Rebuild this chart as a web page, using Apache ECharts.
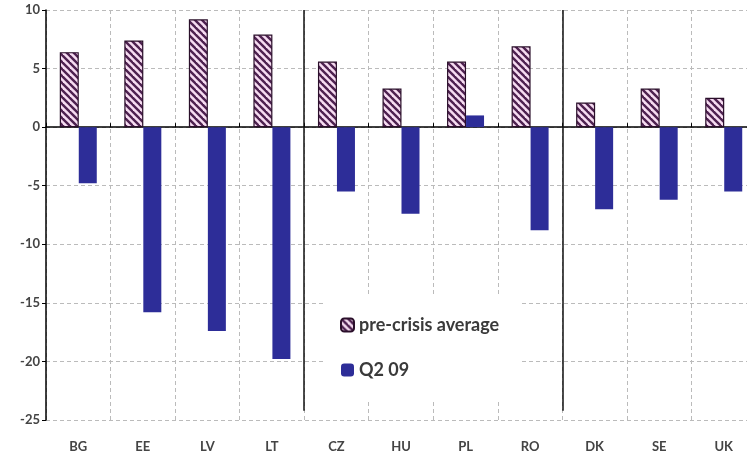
<!DOCTYPE html>
<html>
<head>
<meta charset="utf-8">
<script src="https://cdn.jsdelivr.net/npm/echarts@6/dist/echarts.min.js"></script>
<style>html,body{margin:0;padding:0;background:#fff;overflow:hidden;}#chart{width:756px;height:459px;}</style>
</head>
<body>
<div id="chart"></div>
<script>
var categories = ['BG','EE','LV','LT','CZ','HU','PL','RO','DK','SE','UK'];
var preCrisis = [6.4, 7.4, 9.2, 7.9, 5.6, 3.3, 5.6, 6.9, 2.1, 3.3, 2.5];
var q209 = [-4.8, -15.8, -17.4, -19.8, -5.5, -7.4, 1.0, -8.8, -7.0, -6.2, -5.5];
var yTicks = [10, 5, 0, -5, -10, -15, -20, -25];
var groupDividers = [4, 8];

function makePattern() {
  var c = document.createElement('canvas');
  c.width = 7; c.height = 7;
  var ctx = c.getContext('2d');
  ctx.fillStyle = '#f6dcf1';
  ctx.fillRect(0, 0, 7, 7);
  ctx.strokeStyle = '#4e2150';
  ctx.lineWidth = 2.4;
  for (var k = -2; k <= 2; k++) {
    ctx.beginPath();
    ctx.moveTo(k * 7 - 1, -1);
    ctx.lineTo(k * 7 + 8, 8);
    ctx.stroke();
  }
  return c;
}
var pattern = makePattern();

var chart = echarts.init(document.getElementById('chart'));
var font = 'Lato, "Open Sans", sans-serif';
chart.setOption({
  animation: false,
  backgroundColor: '#fff',
  grid: { left: 46, right: 0, top: 10, bottom: 39, containLabel: false },
  legend: {
    orient: 'vertical',
    left: 326, top: 295,
    padding: [21, 22, 20, 14],
    itemGap: 27,
    itemWidth: 13, itemHeight: 13,
    backgroundColor: '#fff',
    textStyle: { fontFamily: font, fontSize: 18, fontWeight: 'bold', color: '#3a3a3a' },
    data: ['pre-crisis average', 'Q2 09']
  },
  xAxis: [
    {
      type: 'category', data: categories, position: 'bottom',
      axisLine: { show: false, onZero: false },
      axisTick: { show: false },
      axisLabel: { margin: 20, fontFamily: font, fontSize: 13, fontWeight: 'bold', color: '#444' },
      splitLine: { show: true, lineStyle: { color: '#bbb', type: [4, 3], width: 1 } }
    },
    {
      type: 'category', data: categories,
      axisLine: { show: true, onZero: true, lineStyle: { color: '#000', width: 1.5 } },
      axisTick: { show: true, length: 4, lineStyle: { color: '#000' } },
      axisLabel: { show: false },
      splitLine: { show: false }
    },
    {
      type: 'value', min: 0, max: 11, show: false
    }
  ],
  yAxis: {
    type: 'value', min: -25, max: 10, interval: 5,
    axisLine: { show: true, lineStyle: { color: '#000', width: 1.5 } },
    axisTick: { show: true, length: 4, lineStyle: { color: '#000' } },
    axisLabel: { fontFamily: font, fontSize: 13, fontWeight: 'bold', color: '#444', margin: 6 },
    splitLine: { show: true, lineStyle: { color: '#bbb', type: [4, 3], width: 1 } }
  },
  series: [
    {
      name: 'pre-crisis average', type: 'bar', xAxisIndex: 0,
      data: preCrisis, barWidth: 19, barGap: '0%',
      itemStyle: { color: { image: pattern, repeat: 'repeat' }, borderColor: '#2a0f2a', borderWidth: 1.2 }
    },
    {
      name: 'Q2 09', type: 'bar', xAxisIndex: 0,
      data: q209, barWidth: 18, barGap: '0%',
      itemStyle: { color: '#2d2d98' }
    },
    {
      type: 'line', xAxisIndex: 2, data: [], silent: true,
      markLine: {
        symbol: ['none', 'none'], silent: true, label: { show: false },
        lineStyle: { color: '#111', width: 1.5, type: 'solid' },
        data: groupDividers.map(function (v) { return [{ coord: [v, 10] }, { coord: [v, -24.2] }]; })
      }
    }
  ]
});
</script>
</body>
</html>
